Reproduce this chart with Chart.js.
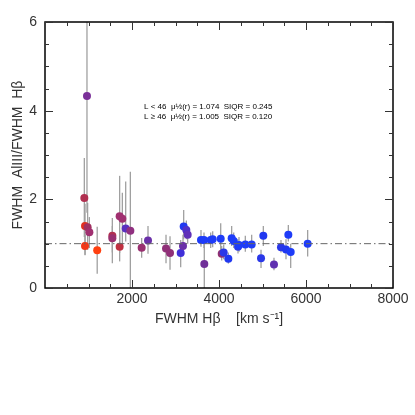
<!DOCTYPE html>
<html>
<head>
<meta charset="utf-8">
<script src="https://cdn.jsdelivr.net/npm/chart.js@4"></script>
<style>
  html, body { margin: 0; padding: 0; background: #fff; }
  #wrap { width: 415px; height: 415px; }
</style>
</head>
<body>
<div id="wrap"><canvas id="chart" width="415" height="415"></canvas></div>
<script>
// =======================
// DATA
// =======================
const fwhmHb = [904, 920, 980, 1020, 920, 1200, 965, 1548, 1548, 1716, 1778, 1716, 1855, 1962, 2222,
  2368, 2782, 2874, 3119, 3172, 3188, 3249, 3280, 3586, 3655, 3662, 3809, 3855, 4039, 4062,
  4108, 4215, 4291, 4338, 4437, 4460, 4605, 4751, 5019, 4966, 5264, 5425, 5540, 5594, 5648, 6038];
const ratio = [2.03, 1.40, 1.37, 1.26, 0.95, 0.85, 4.33, 1.18, 1.12, 1.62, 1.56, 0.93, 1.34, 1.29, 0.91,
  1.07, 0.89, 0.79, 0.79, 0.95, 1.39, 1.31, 1.20, 1.08, 1.08, 0.54, 1.08, 1.10, 1.11, 0.77,
  0.80, 0.66, 1.12, 1.06, 0.93, 0.97, 0.98, 0.98, 1.18, 0.67, 0.53, 0.92, 0.87, 1.20, 0.81, 1.00];
const errLow = [1.15, 0.75, 0.86, 0.90, 0.74, 0.32, 1.70, 0.56, 0.80, 0.79, 1.00, 0.60, 1.05, 0.00, 0.68,
  0.77, 0.56, 0.41, 0.47, 0.75, 1.10, 1.10, 1.00, 0.93, 0.90, 0.00, 0.90, 0.92, 0.75, 0.62,
  0.65, 0.55, 0.95, 0.90, 0.78, 0.82, 0.82, 0.80, 0.95, 0.45, 0.40, 0.80, 0.65, 1.05, 0.45, 0.71];
const errHigh = [2.93, 1.90, 1.92, 1.60, 1.20, 1.38, 7.00, 1.58, 1.40, 2.53, 2.15, 1.30, 2.40, 2.62, 1.13,
  1.40, 1.20, 1.17, 1.08, 1.20, 1.76, 1.52, 1.40, 1.31, 1.25, 1.08, 1.25, 1.28, 1.46, 0.95,
  0.98, 0.80, 1.40, 1.25, 1.10, 1.15, 1.18, 1.20, 1.40, 0.86, 0.68, 1.08, 1.10, 1.42, 1.00, 1.31];
const pointColors = ['#b03050', '#e03020', '#a03060', '#a03070', '#f03818', '#ff4010', '#7a3098', '#b03050',
  '#993070', '#a03070', '#a03070', '#c03040', '#5a30c0', '#903080', '#993070',
  '#6a30a8', '#903078', '#903078', '#4030d8', '#6a30a8', '#2038f0', '#5030c8', '#6030b8', '#1e3cf8',
  '#1e3cf8', '#703098', '#1e3cf8', '#1e3cf8', '#1e3cf8', '#903070',
  '#2a38e8', '#2038f0', '#1e3cf8', '#1e3cf8', '#2a38e8', '#1e3cf8', '#1e3cf8', '#1e3cf8', '#2038f0',
  '#2a38e8', '#6030b0', '#2a38e8', '#2038f0', '#1e3cf8', '#1e3cf8', '#1e3cf8'];

const refLineX = [0, 8000];
const refLineY = [1, 1];

const xTicks = [2000, 4000, 6000, 8000];
const yTicks = [0, 2, 4, 6];
const xMinor = [500, 1000, 1500, 2500, 3000, 3500, 4500, 5000, 5500, 6500, 7000, 7500];
const yMinor = [0.5, 1, 1.5, 2.5, 3, 3.5, 4.5, 5, 5.5];

const noteLines = [
  'L < 46  \u03bc\u00bd(r) = 1.074  SIQR = 0.245',
  'L \u2265 46  \u03bc\u00bd(r) = 1.005  SIQR = 0.120'
];
const notePos = { x: 2276, y: [4.08, 3.86] };

// =======================
// PLUGINS
// =======================
const errorBars = {
  id: 'errorBars',
  beforeDatasetsDraw(chart) {
    const ctx = chart.ctx;
    const xs = chart.scales.x, ys = chart.scales.y;
    const a = chart.chartArea;
    ctx.save();
    ctx.beginPath();
    ctx.rect(a.left, a.top, a.right - a.left, a.bottom - a.top);
    ctx.clip();
    ctx.strokeStyle = '#a0a0a0';
    ctx.lineWidth = 1.3;
    for (let i = 0; i < fwhmHb.length; i++) {
      const px = xs.getPixelForValue(fwhmHb[i]);
      ctx.beginPath();
      ctx.moveTo(px, ys.getPixelForValue(errLow[i]));
      ctx.lineTo(px, ys.getPixelForValue(errHigh[i]));
      ctx.stroke();
    }
    ctx.restore();
  }
};

const frameTicks = {
  id: 'frameTicks',
  afterDraw(chart) {
    const ctx = chart.ctx;
    const xs = chart.scales.x, ys = chart.scales.y;
    const a = chart.chartArea;
    ctx.save();
    ctx.strokeStyle = '#000';
    ctx.lineWidth = 1.5;
    ctx.strokeRect(a.left, a.top, a.right - a.left, a.bottom - a.top);

    ctx.lineWidth = 1;
    ctx.strokeStyle = '#333';
    const drawX = (v, len) => {
      const p = Math.round(xs.getPixelForValue(v)) + 0.5;
      ctx.beginPath();
      ctx.moveTo(p, a.bottom); ctx.lineTo(p, a.bottom - len);
      ctx.moveTo(p, a.top); ctx.lineTo(p, a.top + len);
      ctx.stroke();
    };
    const drawY = (v, len) => {
      const p = Math.round(ys.getPixelForValue(v)) + 0.5;
      ctx.beginPath();
      ctx.moveTo(a.left, p); ctx.lineTo(a.left + len, p);
      ctx.moveTo(a.right, p); ctx.lineTo(a.right - len, p);
      ctx.stroke();
    };
    xMinor.forEach(v => drawX(v, 4));
    xTicks.forEach(v => drawX(v, 8));
    yMinor.forEach(v => drawY(v, 4));
    yTicks.forEach(v => drawY(v, 8));

    // annotation
    ctx.fillStyle = '#000';
    ctx.font = '8px "Liberation Sans", Arial, sans-serif';
    ctx.textBaseline = 'middle';
    const tx = xs.getPixelForValue(notePos.x);
    noteLines.forEach((t, i) => ctx.fillText(t, tx, ys.getPixelForValue(notePos.y[i])));
    ctx.restore();
  }
};

// =======================
// CHART
// =======================
const ctx = document.getElementById('chart').getContext('2d');
const font = { family: '"Liberation Sans", Arial, sans-serif', size: 14 };

new Chart(ctx, {
  type: 'scatter',
  data: {
    datasets: [
      {
        type: 'line',
        data: refLineX.map((x, i) => ({ x: x, y: refLineY[i] })),
        borderColor: '#666',
        borderWidth: 1,
        borderDash: [7, 3, 1.5, 3],
        pointRadius: 0,
        fill: false
      },
      {
        data: fwhmHb.map((x, i) => ({ x: x, y: ratio[i] })),
        backgroundColor: pointColors,
        borderWidth: 0,
        pointRadius: 4
      }
    ]
  },
  options: {
    responsive: false,
    animation: false,
    layout: { padding: { left: 6, top: 22, right: 22, bottom: 83 } },
    plugins: { legend: { display: false }, tooltip: { enabled: false } },
    scales: {
      x: {
        type: 'linear',
        min: 0, max: 8000,
        grid: { display: false, tickLength: 3 },
        border: { display: false },
        afterBuildTicks: s => { s.ticks = xTicks.map(v => ({ value: v })); },
        ticks: { color: '#333', font: font, padding: 0, maxRotation: 0, callback: v => String(v) },
        title: {
          display: true,
          text: 'FWHM H\u03b2    [km s\u207b\u00b9]',
          color: '#333', font: font, padding: { top: 3 }
        },
        afterFit: s => { s.height = 44; }
      },
      y: {
        min: 0, max: 6,
        grid: { display: false, tickLength: 6 },
        border: { display: false },
        afterBuildTicks: s => { s.ticks = yTicks.map(v => ({ value: v })); },
        ticks: { color: '#333', font: font, padding: 2 },
        title: {
          display: true,
          text: 'FWHM  AlIII/FWHM  H\u03b2',
          color: '#333', font: font, padding: { bottom: 2 }
        },
        afterFit: s => { s.width = 39; }
      }
    }
  },
  plugins: [errorBars, frameTicks]
});
</script>
</body>
</html>
